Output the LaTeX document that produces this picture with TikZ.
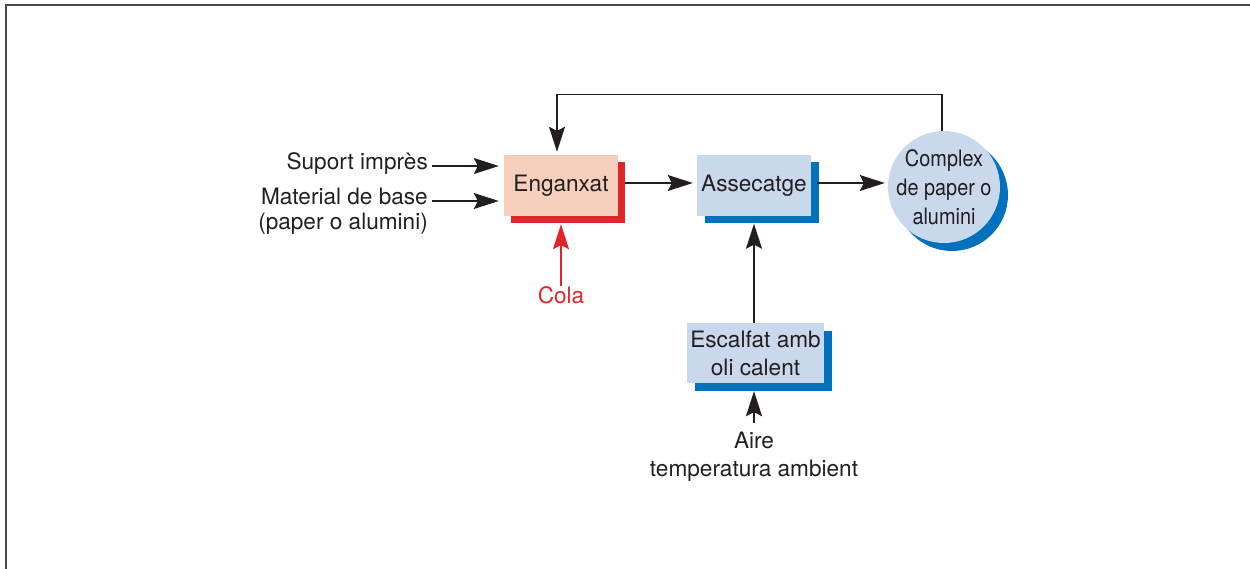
\documentclass[tikz,border=0pt]{standalone}
\usepackage{fontspec}
\setmainfont{TeX Gyre Heros}
\newfontfamily\narrowsans[FakeStretch=0.88]{TeX Gyre Heros}
\usetikzlibrary{arrows.meta,shadows}
\definecolor{ink}{HTML}{231F20}
\definecolor{framegray}{HTML}{4A4A4A}
\definecolor{peach}{HTML}{F6CEBC}
\definecolor{gluered}{HTML}{E2242B}
\definecolor{paleblue}{HTML}{CAD8ED}
\definecolor{deepblue}{HTML}{0071BC}
\begin{document}
\begin{tikzpicture}[x=1pt,y=-1pt,
  every node/.style={font=\fontsize{22.6}{28}\selectfont, text=ink, inner sep=0pt},
  frameline/.style={draw=framegray, line width=2.2pt},
  arr/.style={draw=ink, line width=1.4pt, -{Stealth[length=25pt,width=16pt,inset=4pt]}},
  arrred/.style={draw=gluered, line width=1.4pt, -{Stealth[length=25pt,width=16pt,inset=4pt]}},
  redbox/.style={rectangle, fill=peach, minimum width=114pt, minimum height=61pt,
    general shadow={fill=gluered, shadow xshift=7pt, shadow yshift=-7pt}},
  bluebox/.style={rectangle, fill=paleblue, minimum height=61pt, align=center,
    general shadow={fill=deepblue, shadow xshift=7.5pt, shadow yshift=-7.5pt}},
  bluedisc/.style={circle, fill=paleblue, minimum size=112pt, inner sep=-12pt, align=center,
    general shadow={fill=deepblue, shadow xshift=8pt, shadow yshift=-8pt}},
  label/.style={align=center}
]
\useasboundingbox (0,0) rectangle (1250,569);

% outer frame, open on the right and bottom
\draw[frameline] (1250,5) -- (6,5) -- (6,569);

% process blocks
\node[redbox] (eng) at (561,185.5) {Enganxat};
\node[bluebox, minimum width=114pt] (ass) at (754,185.5) {Assecatge};
\node[bluebox, minimum width=137pt, minimum height=60pt] (esc) at (755.5,353)
  {Escalfat amb\\oli calent};
\node[bluedisc, font=\narrowsans\fontsize{22.6}{29}\selectfont] (cpx) at (944,187)
  {Complex\\de paper o\\alumini};

% inputs
\node[anchor=base east] (sup) at (428,170) {Suport imprès};
\node[anchor=north east, align=right, font=\fontsize{22.6}{25}\selectfont] (mat) at (428,188)
  {Material de base\\(paper o alumini)};
\node[text=gluered] (cola) at (561,295) {Cola};
\node[label, anchor=north] (aire) at (754,432) {Aire\\temperatura ambient};

% flow connectors
\draw[arr, shorten >=5pt] ([shift={(4pt,-2pt)}]sup.east) coordinate (s1) -- (s1 -| eng.west);
\draw[arr, shorten >=5pt] ([shift={(4pt,-13pt)}]mat.north east) coordinate (m1) -- (m1 -| eng.west);
\draw[arr, shorten >=4pt] ([shift={(7pt,2.5pt)}]eng.east) coordinate (e1) -- (e1 -| ass.west);
\draw[arr, shorten >=3pt] ([shift={(6pt,2.5pt)}]ass.east) coordinate (a1) -- (a1 -| cpx.west);
\draw[arrred] (cola.north) -- ([yshift=-8pt]eng.south);
\draw[arr] (esc.north -| ass.south) -- ([yshift=-7.5pt]ass.south);
\draw[arr] ([yshift=9pt]aire.north) -- ([yshift=-8pt]esc.south -| aire.north);

% feedback loop back to the gluing step
\draw[arr, shorten >=3pt] ([xshift=-2pt]cpx.north) -- ++(0,-36) -| ([xshift=-4pt]eng.north);
\end{tikzpicture}
\end{document}
